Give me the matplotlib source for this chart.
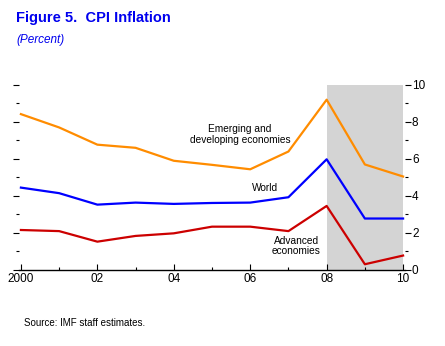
import matplotlib
matplotlib.use('Agg')
import matplotlib.pyplot as plt
from matplotlib.ticker import MultipleLocator, FixedLocator

plt.rcParams['font.family'] = ['Liberation Sans', 'DejaVu Sans']

years = [2000, 2001, 2002, 2003, 2004, 2005, 2006, 2007, 2008, 2009, 2010]
emerging = [8.42, 7.7, 6.77, 6.6, 5.9, 5.68, 5.44, 6.4, 9.2, 5.7, 5.05]
world = [4.45, 4.15, 3.53, 3.64, 3.57, 3.62, 3.64, 3.93, 5.98, 2.78, 2.78]
advanced = [2.16, 2.1, 1.53, 1.84, 1.98, 2.34, 2.34, 2.1, 3.46, 0.31, 0.78]
xtick_years = [2000, 2002, 2004, 2006, 2008, 2010]
xtick_labels = ['2000', '02', '04', '06', '08', '10']
shade_span = (2008, 2010)

fig = plt.figure(figsize=(4.45, 3.46), dpi=100)
ax = fig.add_axes([0.0427, 0.2197, 0.8674, 0.535])

ax.axvspan(shade_span[0], shade_span[1], color='#d4d4d4', lw=0, zorder=0)
ax.plot(years, emerging, color='#ff8c00', lw=1.6, zorder=3)
ax.plot(years, world, color='#0000ff', lw=1.6, zorder=3)
ax.plot(years, advanced, color='#cc0000', lw=1.6, zorder=3)

ax.set_xlim(1999.95, 2010.05)
ax.set_ylim(0, 10)

for s in ['top', 'left', 'right']:
    ax.spines[s].set_visible(False)
ax.spines['bottom'].set_linewidth(1.0)

ax.xaxis.set_major_locator(FixedLocator(xtick_years))
ax.set_xticklabels(xtick_labels)
ax.xaxis.set_minor_locator(FixedLocator([y for y in years if y not in xtick_years]))
ax.tick_params(axis='x', which='major', direction='in', length=4, width=0.8, labelsize=8.5, pad=2)
ax.tick_params(axis='x', which='minor', direction='in', length=2, width=0.8)

ax.yaxis.set_major_locator(MultipleLocator(2))
ax.yaxis.set_minor_locator(MultipleLocator(1))
ax.tick_params(axis='y', which='major', direction='out', length=4, width=0.8,
               left=True, right=True, labelleft=False, labelright=True, labelsize=8.5, pad=1)
ax.tick_params(axis='y', which='minor', direction='out', length=2, width=0.8,
               left=True, right=True)

ax.text(2005.73, 7.32, 'Emerging and\ndeveloping economies', ha='center', va='center',
        fontsize=7.3, linespacing=1.1)
ax.text(2006.39, 4.43, 'World', ha='center', va='center', fontsize=7.3)
ax.text(2007.2, 1.3, 'Advanced\neconomies', ha='center', va='center', fontsize=7.3,
        linespacing=1.1)

fig.text(0.036, 0.947, 'Figure 5.  CPI Inflation', color='#0000ee', fontsize=10.5,
         fontweight='bold', ha='left', va='center')
fig.text(0.036, 0.885, '(Percent)', color='#0000ee', fontsize=8.5, style='italic',
         ha='left', va='center')
fig.text(0.054, 0.067, 'Source: IMF staff estimates.', fontsize=7, ha='left', va='center')

fig.savefig('out.png', dpi=100)
